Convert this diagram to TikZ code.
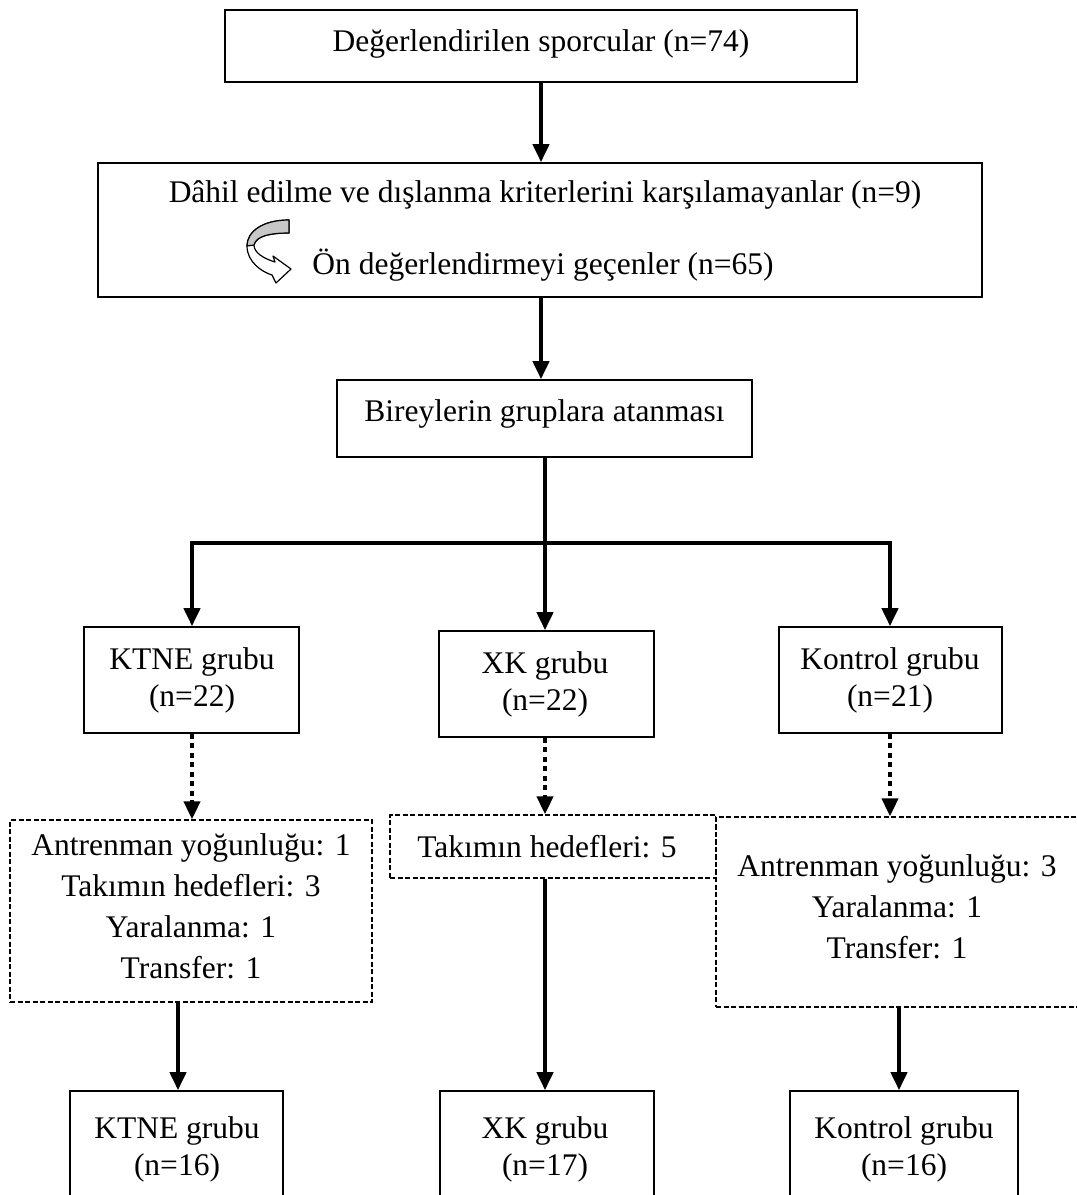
\documentclass[tikz,border=0pt]{standalone}
\usepackage{fontspec}
\setmainfont{Liberation Serif}
\usetikzlibrary{arrows.meta,calc}
\begin{document}
\begin{tikzpicture}[x=1pt,y=-1pt,
  sbox/.style={draw,line width=1.6pt,inner sep=0pt},
  dbox/.style={draw,line width=1.3pt,dash pattern=on 5pt off 2.5pt,inner sep=0pt},
  txt/.style={font=\fontsize{31.5}{39}\selectfont,inner sep=0pt,align=center},
  txtk/.style={font=\fontsize{31.5}{37}\selectfont,inner sep=0pt,align=center},
  txtw/.style={font=\fontsize{31.5}{41}\selectfont,inner sep=0pt,align=center},
  arr/.style={line width=4pt,-{Triangle[length=18pt,width=16pt]}},
  dotarr/.style={line width=4pt,dash pattern=on 5pt off 4.5pt,-{Triangle[length=18pt,width=16pt]}}]
\clip (0,0) rectangle (1077,1195);
\useasboundingbox (0,0) rectangle (1077,1195);
% top boxes
\node[sbox,minimum width=632pt,minimum height=72pt] (b1) at (541,46) {};
\node[txt] (t1) at (541,44) {Değerlendirilen sporcular (n=74)};
\node[sbox,minimum width=884pt,minimum height=134pt] (b2) at (540,230) {};
\node[txt] (t2a) at (545,195) {Dâhil edilme ve dışlanma kriterlerini karşılamayanlar (n=9)};
\node[txt] (t2b) at (543,265) {Ön değerlendirmeyi geçenler (n=65)};
\node[sbox,minimum width=415pt,minimum height=77pt] (b3) at (544.5,418.5) {};
\node[txt] (t3) at (544.5,414) {Bireylerin gruplara atanması};
% curved arrow icon
\filldraw[fill=white,line width=1.2pt,line join=round]
  (289,220) .. controls (262,220) and (247,232) .. (247,246)
  .. controls (247,262) and (262,272) .. (272,275)
  -- (276,283) -- (291,269) -- (273,256) -- (275,262)
  .. controls (262,258) and (254,252) .. (254,245)
  .. controls (256,236) and (270,233) .. (289,233) -- cycle;
\filldraw[fill=black!22,line width=1.2pt,line join=round]
  (289,220) .. controls (262,220) and (247,232) .. (247,246)
  -- (254,245)
  .. controls (256,236) and (270,233) .. (289,233) -- cycle;
% group boxes
\node[sbox,minimum width=215pt,minimum height=106pt] (k1) at (191.5,680) {};
\node[txtk] (tk1) at (192,680.5) {KTNE grubu\\(n=22)};
\node[sbox,minimum width=215pt,minimum height=106pt] (k2) at (546.5,684) {};
\node[txtk] (tk2) at (545,684) {XK grubu\\(n=22)};
\node[sbox,minimum width=223pt,minimum height=106pt] (k3) at (890.5,680) {};
\node[txtk] (tk3) at (890,680) {Kontrol grubu\\(n=21)};
% dashed boxes
\node[dbox,minimum width=362pt,minimum height=182pt] (d1) at (191,911) {};
\node[txtw] (td1) at (191,906) {Antrenman yoğunluğu: 1\\Takımın hedefleri: 3\\Yaralanma: 1\\Transfer: 1};
\node[dbox,minimum width=326pt,minimum height=63pt] (d2) at (553,846.5) {};
\node[txt] (td2) at (547,847) {Takımın hedefleri: 5};
\node[dbox,minimum width=370pt,minimum height=190pt] (d3) at (901,912) {};
\node[txtw] (td3) at (897,907) {Antrenman yoğunluğu: 3\\Yaralanma: 1\\Transfer: 1};
% bottom boxes
\node[sbox,minimum width=213pt,minimum height=140pt] (e1) at (176.5,1161) {};
\node[txtk] (te1) at (177,1149.5) {KTNE grubu\\(n=16)};
\node[sbox,minimum width=214pt,minimum height=140pt] (e2) at (547,1161) {};
\node[txtk] (te2) at (545,1149.5) {XK grubu\\(n=17)};
\node[sbox,minimum width=228pt,minimum height=140pt] (e3) at (904,1161) {};
\node[txtk] (te3) at (904,1149.5) {Kontrol grubu\\(n=16)};
% column coordinates
\coordinate (ca) at (541,0);
\coordinate (cb) at (545,0);
\coordinate (cl) at (192,0);
\coordinate (cr) at (890,0);
\coordinate (j) at (545,543);
\coordinate (x1) at (178,0);
\coordinate (x3) at (899,0);
% connectors
\draw[arr] (b1.south -| ca) -- (b2.north -| ca);
\draw[arr] (b2.south -| ca) -- (b3.north -| ca);
\draw[arr] (b3.south -| cb) -- (k2.north -| cb);
\draw[arr,line join=miter] (j) -| (k1.north -| cl);
\draw[arr,line join=miter] (j) -| (k3.north -| cr);
\draw[dotarr] (k1.south -| cl) -- (d1.north -| cl);
\draw[dotarr] (k2.south -| cb) -- (d2.north -| cb);
\draw[dotarr] (k3.south -| cr) -- (d3.north -| cr);
\draw[arr] (d1.south -| x1) -- (e1.north -| x1);
\draw[arr] (d2.south -| cb) -- (e2.north -| cb);
\draw[arr] (d3.south -| x3) -- (e3.north -| x3);
\end{tikzpicture}
\end{document}
